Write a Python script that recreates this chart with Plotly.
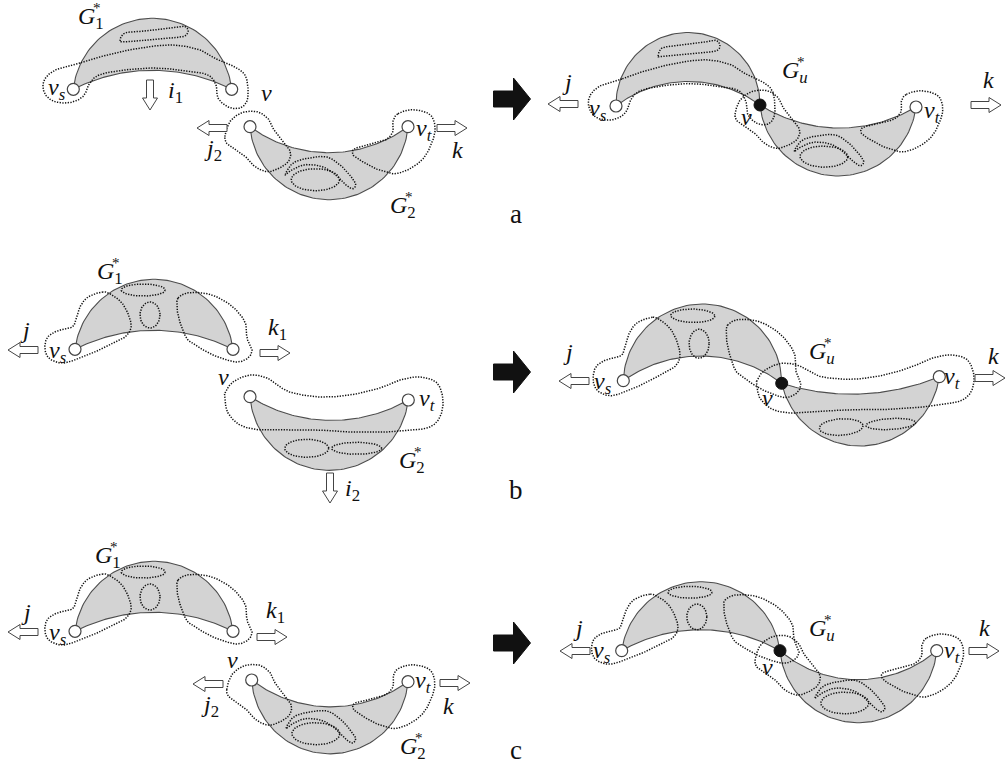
import numpy as np
import plotly.graph_objects as go

W, H = 1007, 767
FILL = '#d3d3d3'
EDGE = '#4d4d4d'
DOT = '#111111'
FONT = 'Liberation Serif, Times New Roman, serif'

# ---------------- templates (point lists) ----------------
G1A_BLOB = [(120, 41), (125, 33), (145, 31), (170, 28), (183, 26), (188, 30), (185, 36), (170, 38), (145, 40), (125, 42)]
G1A_LOOP = [(80, 63), (60, 68), (48, 75), (43, 84), (45, 94), (53, 101), (66, 103), (78, 100), (85, 94), (88, 86),
            (97, 76), (117, 71), (153, 68), (187, 71), (208, 75), (216, 85), (218, 98), (228, 107), (240, 108),
            (247, 101), (248, 88), (245, 75), (235, 67), (218, 60), (200, 50), (173, 45), (140, 48), (107, 55)]

G2A_ELL = (65, 53, 24, 11)
G2A_SWIRL = [(35, 48), (42, 37), (55, 32), (75, 30), (88, 37), (98, 47), (105, 57), (102, 62), (95, 58), (85, 48),
             (72, 40), (55, 38), (42, 43)]
G2A_LEFT = [(-25, 10), (-20, -5), (-8, -14), (7, -15), (18, -8), (23, 2), (32, 13), (40, 25), (38, 35), (28, 42),
            (17, 45), (5, 40), (-2, 32), (-12, 25), (-22, 18)]
G2A_RIGHT = [(147, -13), (162, -17), (179, -12), (184, 2), (180, 18), (172, 32), (159, 42), (145, 47), (135, 45),
             (125, 42), (107, 32), (102, 27), (104, 22), (119, 18), (135, 13), (142, 5), (142, -5)]

G1B_ELL1 = (143.3, 290, 22, 6)
G1B_ELL2 = (150, 315, 10, 13)
G1B_LEFT = [(103, 292), (88, 297), (80, 307), (76, 320), (72, 327), (57, 331), (47, 338), (45, 350), (50, 359),
            (63, 363), (80, 358), (97, 351), (113, 343), (125, 337), (131, 328), (129, 316), (122, 303), (112, 295)]
G1B_RIGHT = [(178, 298), (187, 293), (203, 293), (217, 297), (233, 307), (245, 322), (247, 338), (252, 350),
             (248, 358), (238, 362), (227, 360), (213, 355), (200, 348), (188, 340), (182, 328), (178, 315), (177, 305)]

G2B_ELL1 = (306.7, 448.3, 22, 9)
G2B_ELL2 = (356.7, 448.3, 25, 6)
G2B_LOOP = [(225, 393), (233, 382), (250, 375), (267, 378), (280, 387), (293, 393), (320, 397), (350, 395),
            (380, 388), (400, 380), (420, 377), (437, 383), (443, 400), (440, 417), (430, 427), (413, 430),
            (387, 432), (350, 432), (317, 430), (287, 430), (260, 430), (240, 425), (228, 413), (225, 400)]

TEMPLATES = {
    'G1a': dict(A=(73.3, 89.3), B=(231.7, 89.3), up=True, s_out=71,
                loops=[('s', G1A_BLOB), ('s', G1A_LOOP)]),
    'G2a': dict(A=(0, 0), B=(157, 0), up=False, s_out=73,
                loops=[('e', G2A_ELL), ('s', G2A_SWIRL), ('s', G2A_LEFT), ('s', G2A_RIGHT)]),
    'G1b': dict(A=(75, 349.3), B=(233, 349.3), up=True, s_out=70,
                loops=[('e', G1B_ELL1), ('e', G1B_ELL2), ('s', G1B_LEFT), ('s', G1B_RIGHT)]),
    'G2b': dict(A=(250, 396.7), B=(408.3, 400), up=False, s_out=72,
                loops=[('e', G2B_ELL1), ('e', G2B_ELL2), ('s', G2B_LOOP)]),
}

# instances: template, left vertex, right vertex, outer sagitta, inner sagitta
PIECES = [
    ('G1a', (73.3, 89.3), (231.7, 89.3), 71, 19),
    ('G2a', (250, 126.7), (408, 126.7), 73, 26),
    ('G1a', (616, 106), (760, 105), 73, 24),
    ('G2a', (760, 105), (916, 107), 70, 22),
    ('G1b', (75, 349.3), (233, 349.3), 70, 19),
    ('G2b', (250, 396.7), (408.3, 400), 72, 22),
    ('G1b', (623.3, 380.7), (781.7, 383.3), 78, 26),
    ('G2b', (781.7, 383.3), (939.3, 376.7), 66, 14),
    ('G1b', (75, 631.3), (233, 631.3), 70, 19),
    ('G2a', (251.7, 680), (408, 681.7), 73, 26),
    ('G1b', (621.7, 650.7), (780, 650.7), 69, 21),
    ('G2a', (780, 650.7), (936.7, 650.7), 72, 29),
]
BLACK_NODES = [(760, 105), (781.7, 383.3), (780, 650.7)]

HOLLOW = [(150, 95, 'down'), (212, 128, 'left'), (452, 128, 'right'), (563, 104, 'left'), (986, 105, 'right'),
          (23, 350, 'left'), (275, 353, 'right'), (330, 488, 'down'), (574, 381, 'left'), (990, 378, 'right'),
          (23, 632, 'left'), (272, 637, 'right'), (208, 684, 'left'), (455, 683, 'right'), (575, 651, 'left'),
          (984, 651, 'right')]
BLACK_ARROWS = [(512, 99), (512, 372), (512, 643)]

G_LABELS = [(86, 18, '1'), (398, 207, '2'), (790, 72, 'u'), (105, 273, '1'), (407, 462, '2'), (817, 353, 'u'),
            (103, 557, '1'), (408, 748, '2'), (817, 630, 'u')]
LABELS = [
    (57, 89, 'v', 's'), (175, 92, 'i', '1'), (266, 93, 'v', ''), (213, 150, 'j', '2'), (424, 130, 'v', 't'),
    (457, 150, 'k', ''), (567, 82, 'j', ''), (598, 110, 'v', 's'), (746, 117, 'v', ''), (932, 112, 'v', 't'),
    (988, 80, 'k', ''),
    (25, 330, 'j', ''), (58, 352, 'v', 's'), (277, 329, 'k', '1'), (223, 377, 'v', ''), (427, 400, 'v', 't'),
    (352, 490, 'i', '2'), (568, 352, 'j', ''), (603, 383, 'v', 's'), (767, 398, 'v', ''), (952, 378, 'v', 't'),
    (993, 356, 'k', ''),
    (26, 612, 'j', ''), (58, 634, 'v', 's'), (275, 612, 'k', '1'), (232, 660, 'v', ''), (210, 706, 'j', '2'),
    (423, 682, 'v', 't'), (448, 706, 'k', ''), (578, 628, 'j', ''), (602, 652, 'v', 's'), (767, 667, 'v', ''),
    (952, 652, 'v', 't'), (984, 628, 'k', ''),
]
PANEL_LETTERS = [(516, 214, 'a'), (516, 490, 'b'), (516, 750, 'c')]


# ---------------- geometry helpers ----------------
def frame(A, B, up):
    A = np.array(A, float); B = np.array(B, float)
    L = np.linalg.norm(B - A); e = (B - A) / L
    n = np.array([e[1], -e[0]]) if up else np.array([-e[1], e[0]])
    return A, B, L, e, n


def arc(A, B, s, up, npts=80):
    A, B, L, e, n = frame(A, B, up)
    c = L / 2
    R = (c * c + s * s) / (2 * s)
    M = (A + B) / 2
    C = M + n * (s - R)
    phi = np.arccos((R - s) / R)
    th = np.linspace(-phi, phi, npts)
    return C[None, :] + R * (np.sin(th)[:, None] * e[None, :] + np.cos(th)[:, None] * n[None, :])


def smooth_closed(pts, per=14):
    P = np.array(pts, float); N = len(P); out = []
    for i in range(N):
        p0, p1, p2, p3 = P[(i - 1) % N], P[i], P[(i + 1) % N], P[(i + 2) % N]
        for t in np.linspace(0, 1, per, endpoint=False):
            out.append(0.5 * (2 * p1 + (-p0 + p2) * t + (2 * p0 - 5 * p1 + 4 * p2 - p3) * t * t
                              + (-p0 + 3 * p1 - 3 * p2 + p3) * t ** 3))
    out.append(out[0])
    return np.array(out)


def ellipse(cx, cy, rx, ry, npts=60):
    t = np.linspace(0, 2 * np.pi, npts)
    return np.c_[cx + rx * np.cos(t), cy + ry * np.sin(t)]


def transform(pts, tpl, A2, B2, k):
    A, B, L, e, n = frame(tpl['A'], tpl['B'], tpl['up'])
    A2_, B2_, L2, e2, n2 = frame(A2, B2, tpl['up'])
    d = pts - A[None, :]
    u = d @ e / L
    w = d @ n
    return A2_[None, :] + u[:, None] * (B2_ - A2_)[None, :] + (w * k)[:, None] * n2[None, :]


def arrow_poly(cx, cy, direction, length=30, shaft=7, head=15, head_len=12):
    h = length / 2
    loc = np.array([(-h, -shaft / 2), (h - head_len, -shaft / 2), (h - head_len, -head / 2), (h, 0),
                    (h - head_len, head / 2), (h - head_len, shaft / 2), (-h, shaft / 2), (-h, -shaft / 2)])
    rot = {'right': (1, 0), 'left': (-1, 0), 'down': (0, 1), 'up': (0, -1)}[direction]
    ex = np.array(rot, float); ey = np.array([-ex[1], ex[0]])
    return np.array([cx, cy]) + loc[:, :1] * ex + loc[:, 1:] * ey


fig = go.Figure()


def add_poly(P, fill=None, color=EDGE, width=1.0, dash='solid'):
    fig.add_trace(go.Scatter(x=P[:, 0], y=P[:, 1], mode='lines',
                             fill='toself' if fill else None, fillcolor=fill,
                             line=dict(color=color, width=width, dash=dash),
                             hoverinfo='skip', showlegend=False))


# crescent fills
for name, A2, B2, so, si in PIECES:
    tpl = TEMPLATES[name]
    outer = arc(A2, B2, so, tpl['up'])
    inner = arc(A2, B2, si, tpl['up'])[::-1]
    P = np.vstack([outer, inner, outer[:1]])
    add_poly(P, fill=FILL, color=EDGE, width=1.1)

# dotted loops
for name, A2, B2, so, si in PIECES:
    tpl = TEMPLATES[name]
    k = so / tpl['s_out']
    for kind, data in tpl['loops']:
        P = smooth_closed(data) if kind == 's' else ellipse(*data)
        Q = transform(P, tpl, A2, B2, k)
        add_poly(Q, color=DOT, width=1.5, dash='1.3px,1.4px')

# hollow arrows
for cx, cy, d in HOLLOW:
    add_poly(arrow_poly(cx, cy, d), fill='white', color='#444444', width=1.0)

# black block arrows
for cx, cy in BLACK_ARROWS:
    add_poly(arrow_poly(cx, cy, 'right', length=37, shaft=16, head=42, head_len=17), fill='#111111',
             color='#111111', width=1)

# vertices
nodes = []
for name, A2, B2, so, si in PIECES:
    for p in (A2, B2):
        if not any(abs(p[0] - b[0]) < 1 and abs(p[1] - b[1]) < 1 for b in BLACK_NODES):
            nodes.append(p)
nodes = np.array(nodes)
fig.add_trace(go.Scatter(x=nodes[:, 0], y=nodes[:, 1], mode='markers',
                         marker=dict(size=12, color='white', line=dict(color='#444444', width=1.2)),
                         hoverinfo='skip', showlegend=False))
bn = np.array(BLACK_NODES)
fig.add_trace(go.Scatter(x=bn[:, 0], y=bn[:, 1], mode='markers',
                         marker=dict(size=12, color='#111111', line=dict(color='#111111', width=1)),
                         hoverinfo='skip', showlegend=False))

ann = []
for x, y, sub in G_LABELS:
    subtxt = f'<i>{sub}</i>' if sub.isalpha() else sub
    ann.append(dict(x=x - 10, y=y, text=f'<i>G</i><sub>{subtxt}</sub>', xanchor='left', yanchor='middle',
                    font=dict(family=FONT, size=24, color='#111')))
    ann.append(dict(x=x + 11, y=y - 10, text='*', xanchor='center', yanchor='middle',
                    font=dict(family=FONT, size=15, color='#111')))
for x, y, base, sub in LABELS:
    t = f'<i>{base}</i>'
    if sub:
        t += f'<sub>{"<i>" + sub + "</i>" if sub.isalpha() else sub}</sub>'
    ann.append(dict(x=x, y=y, text=t, xanchor='center', yanchor='middle',
                    font=dict(family=FONT, size=24, color='#111')))
for x, y, t in PANEL_LETTERS:
    ann.append(dict(x=x, y=y, text=t, xanchor='center', yanchor='middle',
                    font=dict(family=FONT, size=27, color='#111')))
for a in ann:
    a.update(xref='x', yref='y', showarrow=False)

fig.update_layout(width=W, height=H, margin=dict(l=0, r=0, t=0, b=0),
                  paper_bgcolor='white', plot_bgcolor='white', annotations=ann,
                  xaxis=dict(range=[0, W], visible=False, fixedrange=True),
                  yaxis=dict(range=[H, 0], visible=False, fixedrange=True))
fig.write_html('out.html', config={'displayModeBar': False},
               post_script="document.body.style.margin='0';document.body.style.overflow='hidden';")
